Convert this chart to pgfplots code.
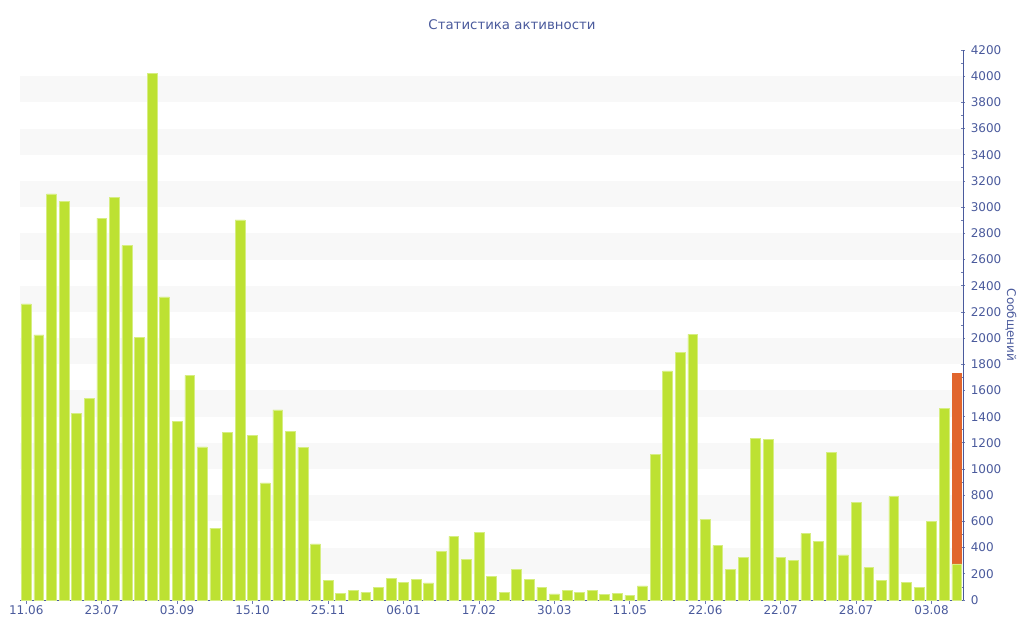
\documentclass[border=0pt]{standalone}
\usepackage{pgfplots}
\pgfplotsset{compat=1.18}
\usepackage{fontspec}
\setmainfont{DejaVu Sans}
\definecolor{txt}{RGB}{74,90,156}
\definecolor{bargreen}{RGB}{189,225,50}
\definecolor{baredge}{RGB}{214,238,130}
\definecolor{barorange}{RGB}{225,101,45}
\definecolor{band}{RGB}{248,248,248}
\begin{document}
\begin{tikzpicture}
\useasboundingbox (0,0) rectangle (768pt,480pt);
\node[text=txt, font=\fontsize{10}{12}\selectfont] at (384pt,461.25pt) {Статистика активности};
\begin{axis}[
  at={(15pt,30pt)}, anchor=south west,
  width=707.25pt, height=412.5pt, scale only axis,
  xmin=-0.5, xmax=74.5, ymin=0, ymax=4200,
  axis x line*=bottom, axis y line*=right,
  axis line style={txt, line width=0.75pt},
  ytick={0,200,...,4200},
  minor ytick={100,300,...,4100},
  xtick={0,6,...,72},
  xticklabels={11.06,23.07,03.09,15.10,25.11,06.01,17.02,30.03,11.05,22.06,22.07,28.07,03.08},
  tick align=outside,
  major tick length=2.8pt,
  minor tick length=1.6pt,
  every tick/.style={txt!80, line width=0.6pt},
  every major y tick/.style={xshift=-1.4pt},
  every minor y tick/.style={xshift=-1.6pt},
  ticklabel style={text=txt, font=\fontsize{9}{11}\selectfont},
  yticklabel style={xshift=-0.5pt},
  xticklabel style={yshift=2pt},
  /pgf/number format/1000 sep={},
  /pgf/number format/assume math mode=true,
  ylabel={Сообщений},
  every axis y label/.style={at={(rel axis cs:1,0.5)}, xshift=36pt, rotate=-90, anchor=center, text=txt, font=\fontsize{9}{11}\selectfont},
  ybar, bar width=0.78, bar shift=0pt,
  clip=false,
]
\pgfplotsinvokeforeach{0,...,9}{
  \fill[band] (axis cs:-0.5,{200+400*#1}) rectangle (axis cs:74.5,{400+400*#1});
}
\addplot[fill=barorange, draw=none] coordinates {(74,1733)};
\addplot[fill=bargreen, draw=baredge, line width=0.4pt] coordinates {
(0,2261) (1,2024) (2,3102) (3,3046) (4,1426) (5,1538) (6,2916) (7,3077) (8,2707) (9,2007)
(10,4020) (11,2315) (12,1363) (13,1716) (14,1169) (15,548) (16,1279) (17,2902) (18,1256) (19,895)
(20,1451) (21,1290) (22,1163) (23,429) (24,152) (25,50) (26,76) (27,58) (28,94) (29,165)
(30,137) (31,158) (32,130) (33,374) (34,486) (35,313) (36,514) (37,178) (38,58) (39,234)
(40,155) (41,97) (42,46) (43,76) (44,56) (45,76) (46,41) (47,48) (48,36) (49,107)
(50,1110) (51,1749) (52,1889) (53,2029) (54,616) (55,417) (56,232) (57,328) (58,1237) (59,1227)
(60,328) (61,305) (62,506) (63,448) (64,1125) (65,344) (66,744) (67,247) (68,150) (69,790)
(70,135) (71,99) (72,600) (73,1461) (74,275)
};
\end{axis}
\end{tikzpicture}
\end{document}
